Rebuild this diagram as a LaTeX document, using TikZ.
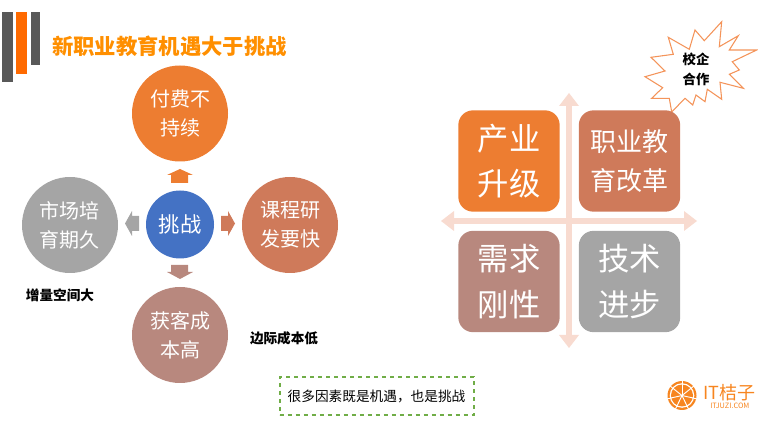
\documentclass[tikz,border=0pt]{standalone}
\usepackage{fontspec}
\setmainfont{Noto Sans CJK SC}
\definecolor{cOrange}{HTML}{ED7D31}
\definecolor{cRed}{HTML}{CF7A5A}
\definecolor{cRose}{HTML}{B8887E}
\definecolor{cGray}{HTML}{A5A5A5}
\definecolor{cBlue}{HTML}{4472C4}
\definecolor{cCross}{HTML}{F8DBD0}
\definecolor{cBar}{HTML}{595959}
\definecolor{cBarO}{HTML}{FF6A00}
\definecolor{cTitle}{HTML}{FF8F00}
\definecolor{cGreen}{HTML}{70AD47}
\definecolor{cStar}{HTML}{F4945A}
\definecolor{cLogo}{HTML}{F7851F}
\tikzset{
  disc/.style={circle,minimum size=72pt,inner sep=0pt,align=center,text=white,
    font=\fontsize{15}{21.75}\selectfont},
  quadbox/.style={rounded corners=11pt,inner sep=0pt,minimum width=76pt,minimum height=76pt,
    align=center,text=white},
  quadbig/.style={quadbox,font=\fontsize{23.5}{34}\selectfont},
  quadmid/.style={quadbox,font=\fontsize{19.5}{29}\selectfont},
  note/.style={font=\fontsize{10.2}{12}\selectfont\bfseries,text=black,inner sep=0pt},
}
\begin{document}
\begin{tikzpicture}[x=0.75pt,y=-0.75pt]
\useasboundingbox (0,0) rectangle (758,431);
% corner bars
\fill[cBar] (2,12) rectangle (13,82);
\fill[cBarO] (16,12) rectangle (27,74);
\fill[cBar] (31,12) rectangle (40,65);
\node[anchor=west,inner sep=0pt,text=cTitle,font=\fontsize{16}{18}\selectfont\bfseries] (title) at (52,46) {新职业教育机遇大于挑战};
% discs
\node[disc,fill=cOrange] (top) at (180,113.5) {付费不\\持续};
\node[disc,fill=cGray] (left) at (70,225) {市场培\\育期久};
\node[disc,fill=cRed] (right) at (290,225) {课程研\\发要快};
\node[disc,fill=cRose] (bottom) at (180,335) {获客成\\本高};
\node[disc,fill=cBlue,minimum size=51pt,font=\fontsize{16}{20}\selectfont] (center) at (180,224.5) {挑战};
% block arrows
\fill[cOrange] (180,169) -- (193,175) -- (188,175) -- (188,183) -- (171,183) -- (171,175) -- (167,175) -- cycle;
\fill[cRose] (180,279) -- (193,272) -- (188,272) -- (188,265) -- (171,265) -- (171,272) -- (167,272) -- cycle;
\fill[cGray] (125,223.5) -- (132,211) -- (132,216) -- (139,216) -- (139,231) -- (132,231) -- (132,236) -- cycle;
\fill[cRed] (235,223.5) -- (228,211) -- (228,216) -- (221,216) -- (221,231) -- (228,231) -- (228,236) -- cycle;
\node[note] (n1) at (60,295) {增量空间大};
\node[note] (n2) at (284,338) {边际成本低};
% dashed note
\node[draw=cGreen,line width=1.5pt,dashed,minimum width=145.5pt,minimum height=28.5pt,inner sep=0pt,
  font=\fontsize{10.25}{12}\selectfont] (dash) at (376.5,396) {很多因素既是机遇，也是挑战};
% cross
\fill[cCross] (441,221) -- (454,211) -- (454,218.2) -- (566.2,218.2) -- (566.2,106) -- (559,106) -- (569,93) -- (579,106) -- (571.8,106) -- (571.8,218.2) -- (684,218.2) -- (684,211) -- (697,221) -- (684,231) -- (684,223.8) -- (571.8,223.8) -- (571.8,335) -- (579,335) -- (569,348) -- (559,335) -- (566.2,335) -- (566.2,223.8) -- (454,223.8) -- (454,231) -- cycle;
% star
\draw[cStar,line width=0.8pt,line join=miter,fill=white] (671.7,112) -- (669.3,98.3) -- (651.7,98.3) -- (662.7,87.7) -- (645,76.7) -- (665,71) -- (651,57.3) -- (673.3,54.3) -- (668.3,37.3) -- (689.3,49.3) -- (695,30) -- (704.3,40.7) -- (721.7,21.7) -- (719.3,46.7) -- (738.3,35.7) -- (729.3,50) -- (756.7,50) -- (732.3,61.7) -- (739.3,70) -- (729.3,74.3) -- (743.3,88.3) -- (720,82.3) -- (721.7,99.3) -- (707.3,89.3) -- (705,101.7) -- (696,95) -- (692.7,105) -- (685,98.3) -- cycle;
\node[align=center,inner sep=0pt,font=\fontsize{10}{15}\selectfont\bfseries] (star) at (696,69) {校企\\合作};
% quadrant boxes
\node[quadbig,fill=cOrange] (q1) at (509,161) {产业\\升级};
\node[quadmid,fill=cRed] (q2) at (629.5,161) {职业教\\育改革};
\node[quadbig,fill=cRose] (q3) at (509,281.5) {需求\\刚性};
\node[quadbig,fill=cGray] (q4) at (629.5,281.5) {技术\\进步};
% logo
\fill[cLogo] (682,395.5) circle[radius=14.5];
\fill[white] (682,395.5) circle[radius=12.3];
\fill[cLogo] (682,395.5) circle[radius=11];
\foreach \a in {90,141.43,192.86,244.29,295.71,347.14,398.57}
  \draw[white,line width=0.7pt] (682,395.5) -- ++({\a}:{11.5*1pt}) ;
\node[anchor=west,inner sep=0pt,text=cLogo,font=\fontsize{13.5}{15}\selectfont] (lg) at (703,392.5) {IT桔子};
\node[anchor=west,inner sep=0pt,text=cLogo,font=\fontsize{5.5}{6}\selectfont] (lg2) at (710,406) {ITJUZI.COM};
\end{tikzpicture}
\end{document}
